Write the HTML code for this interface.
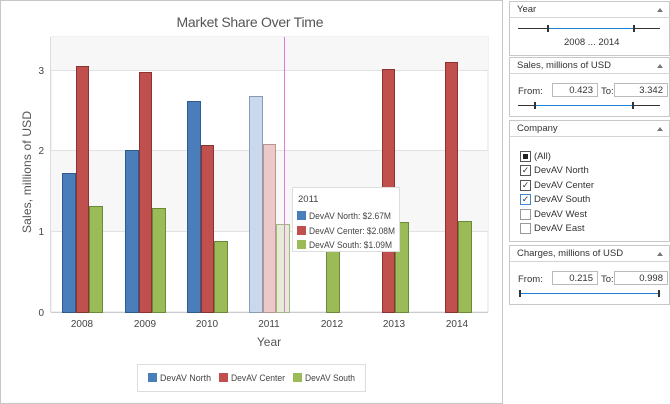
<!DOCTYPE html>
<html><head><meta charset="utf-8"><style>
body{margin:0;width:670px;height:404px;background:#fff;font-family:"Liberation Sans",sans-serif;overflow:hidden;position:relative}
.grp{position:absolute;left:509px;width:159px;border:1px solid #c8c8c8;background:#fff;font-size:9.5px;color:#333}
.hd{height:15px;border-bottom:1px solid #d4d4d4;padding-left:7px;line-height:15px;position:relative}
.hd:after{content:"";position:absolute;right:6px;top:6px;border-left:3px solid transparent;border-right:3px solid transparent;border-bottom:4px solid #777}
.inp{position:absolute;height:14px;border:1px solid #bbb;text-align:right;line-height:13px;padding-right:4px;box-sizing:border-box}
.lbl{position:absolute}
.cb{position:absolute;left:10px;width:9px;height:9px;border:1px solid #555;background:#fff;text-align:center}
.ct{position:absolute;left:24px}
</style></head><body>
<svg width="670" height="404" style="position:absolute;left:0;top:0" font-family="Liberation Sans, sans-serif">
<rect x="0.5" y="0.5" width="502" height="403" fill="#fff" stroke="#c6c6c6"/>
<text x="250" y="27" text-anchor="middle" font-size="14" fill="#555" textLength="147">Market Share Over Time</text>
<rect x="51" y="37" width="437" height="275" fill="#fff" stroke="#e0e0e0"/>
<rect x="51" y="37" width="437" height="33" fill="#f7f7f7"/>
<rect x="51" y="150" width="437" height="81" fill="#f7f7f7"/>
<g stroke="#e2e2e2"><line x1="51" x2="488" y1="70.5" y2="70.5"/><line x1="51" x2="488" y1="150.5" y2="150.5"/><line x1="51" x2="488" y1="231.5" y2="231.5"/></g>
<line x1="51" x2="488" y1="312.5" y2="312.5" stroke="#ccc"/>
<line x1="50.5" x2="50.5" y1="37" y2="312" stroke="#ddd"/>
<g font-size="10" fill="#444" text-anchor="end"><text x="44" y="316">0</text><text x="44" y="235">1</text><text x="44" y="154">2</text><text x="44" y="74">3</text></g>
<text transform="translate(31,172) rotate(-90)" text-anchor="middle" font-size="12" fill="#555" textLength="122">Sales, millions of USD</text>
<g font-size="10" fill="#444" text-anchor="middle"><text x="82" y="327">2008</text><text x="145" y="327">2009</text><text x="207" y="327">2010</text><text x="269" y="327">2011</text><text x="332" y="327">2012</text><text x="394" y="327">2013</text><text x="457" y="327">2014</text></g>
<text x="269" y="346" text-anchor="middle" font-size="12" fill="#555">Year</text>
<g stroke-width="1">
<rect x="62.5" y="173.5" width="13" height="139" fill="#4a7ebb" stroke="#2f5c8f"/>
<rect x="76.5" y="66.5" width="12" height="246" fill="#c0504d" stroke="#8c3331"/>
<rect x="89.5" y="206.5" width="13" height="106" fill="#9bbb59" stroke="#6b8a37"/>
<rect x="125.5" y="150.5" width="13" height="162" fill="#4a7ebb" stroke="#2f5c8f"/>
<rect x="139.5" y="72.5" width="12" height="240" fill="#c0504d" stroke="#8c3331"/>
<rect x="152.5" y="208.5" width="13" height="104" fill="#9bbb59" stroke="#6b8a37"/>
<rect x="187.5" y="101.5" width="13" height="211" fill="#4a7ebb" stroke="#2f5c8f"/>
<rect x="201.5" y="145.5" width="12" height="167" fill="#c0504d" stroke="#8c3331"/>
<rect x="214.5" y="241.5" width="13" height="71" fill="#9bbb59" stroke="#6b8a37"/>
<rect x="249.5" y="96.5" width="13" height="216" fill="#c9d8ec" stroke="#8a9cb3"/>
<rect x="263.5" y="144.5" width="12" height="168" fill="#ecc9c8" stroke="#b89493"/>
<rect x="276.5" y="224.5" width="13" height="88" fill="#e4edd4" stroke="#a5b58a"/>
<rect x="326.5" y="223.5" width="13" height="89" fill="#9bbb59" stroke="#6b8a37"/>
<rect x="382.5" y="69.5" width="12" height="243" fill="#c0504d" stroke="#8c3331"/>
<rect x="395.5" y="222.5" width="13" height="90" fill="#9bbb59" stroke="#6b8a37"/>
<rect x="445.5" y="62.5" width="12" height="250" fill="#c0504d" stroke="#8c3331"/>
<rect x="458.5" y="221.5" width="13" height="91" fill="#9bbb59" stroke="#6b8a37"/>
</g>
<line x1="284.5" x2="284.5" y1="37" y2="312" stroke="#e07ad8"/>
<rect x="292.5" y="187.5" width="107" height="64" fill="#fff" stroke="#ddd"/>
<g font-size="9.5" fill="#444"><text x="298" y="202">2011</text>
<rect x="297" y="211" width="9" height="9" fill="#4a7ebb"/><text x="309" y="219" textLength="82" lengthAdjust="spacingAndGlyphs">DevAV North: $2.67M</text>
<rect x="297" y="226" width="9" height="9" fill="#c0504d"/><text x="309" y="234" textLength="86" lengthAdjust="spacingAndGlyphs">DevAV Center: $2.08M</text>
<rect x="297" y="240" width="9" height="9" fill="#9bbb59"/><text x="309" y="248" textLength="83" lengthAdjust="spacingAndGlyphs">DevAV South: $1.09M</text></g>
<rect x="137.5" y="364.5" width="228" height="27" fill="#fff" stroke="#ddd"/>
<g font-size="9.5" fill="#444">
<rect x="148" y="373" width="9" height="9" fill="#4a7ebb"/><text x="160" y="381" textLength="51" lengthAdjust="spacingAndGlyphs">DevAV North</text>
<rect x="219" y="373" width="9" height="9" fill="#c0504d"/><text x="231" y="381" textLength="54" lengthAdjust="spacingAndGlyphs">DevAV Center</text>
<rect x="293" y="373" width="9" height="9" fill="#9bbb59"/><text x="305" y="381" textLength="50" lengthAdjust="spacingAndGlyphs">DevAV South</text></g>
</svg>

<div class="grp" style="top:1px;height:53px"><div class="hd">Year</div>
<div style="position:absolute;left:8px;top:26px;width:142px;height:1px;background:#333"></div>
<div style="position:absolute;left:38px;top:26px;width:86px;height:1px;background:#1e7fd0"></div>
<div style="position:absolute;left:37px;top:23px;width:2px;height:7px;background:#333"></div>
<div style="position:absolute;left:123px;top:23px;width:2px;height:7px;background:#333"></div>
<div class="lbl" style="left:54px;top:35px">2008 ... 2014</div></div>

<div class="grp" style="top:57px;height:58px"><div class="hd">Sales, millions of USD</div>
<div class="lbl" style="left:8px;top:28px">From:</div><div class="inp" style="left:42px;top:25px;width:46px">0.423</div>
<div class="lbl" style="left:91px;top:28px">To:</div><div class="inp" style="left:104px;top:25px;width:54px">3.342</div>
<div style="position:absolute;left:8px;top:47px;width:142px;height:1px;background:#333"></div>
<div style="position:absolute;left:25px;top:47px;width:98px;height:1px;background:#1e7fd0"></div>
<div style="position:absolute;left:24px;top:44px;width:2px;height:7px;background:#333"></div>
<div style="position:absolute;left:122px;top:44px;width:2px;height:7px;background:#333"></div></div>

<div class="grp" style="top:120px;height:120px"><div class="hd">Company</div>
<div class="cb" style="top:30px"><div style="position:absolute;left:2px;top:2px;width:5px;height:5px;background:#222"></div></div><div class="ct" style="top:30px">(All)</div>
<div class="cb" style="top:44px;font-size:9px;line-height:9px">✓</div><div class="ct" style="top:44px">DevAV North</div>
<div class="cb" style="top:59px;font-size:9px;line-height:9px">✓</div><div class="ct" style="top:59px">DevAV Center</div>
<div class="cb" style="top:73px;font-size:9px;line-height:9px;border-color:#3a86d0">✓</div><div class="ct" style="top:73px">DevAV South</div>
<div class="cb" style="top:88px;border-color:#999"></div><div class="ct" style="top:88px">DevAV West</div>
<div class="cb" style="top:102px;border-color:#999"></div><div class="ct" style="top:102px">DevAV East</div></div>

<div class="grp" style="top:245px;height:58px"><div class="hd">Charges, millions of USD</div>
<div class="lbl" style="left:8px;top:28px">From:</div><div class="inp" style="left:42px;top:25px;width:46px">0.215</div>
<div class="lbl" style="left:91px;top:28px">To:</div><div class="inp" style="left:104px;top:25px;width:54px">0.998</div>
<div style="position:absolute;left:10px;top:47px;width:139px;height:1px;background:#1e7fd0"></div>
<div style="position:absolute;left:9px;top:44px;width:2px;height:7px;background:#333"></div>
<div style="position:absolute;left:148px;top:44px;width:2px;height:7px;background:#333"></div></div>
</body></html>
